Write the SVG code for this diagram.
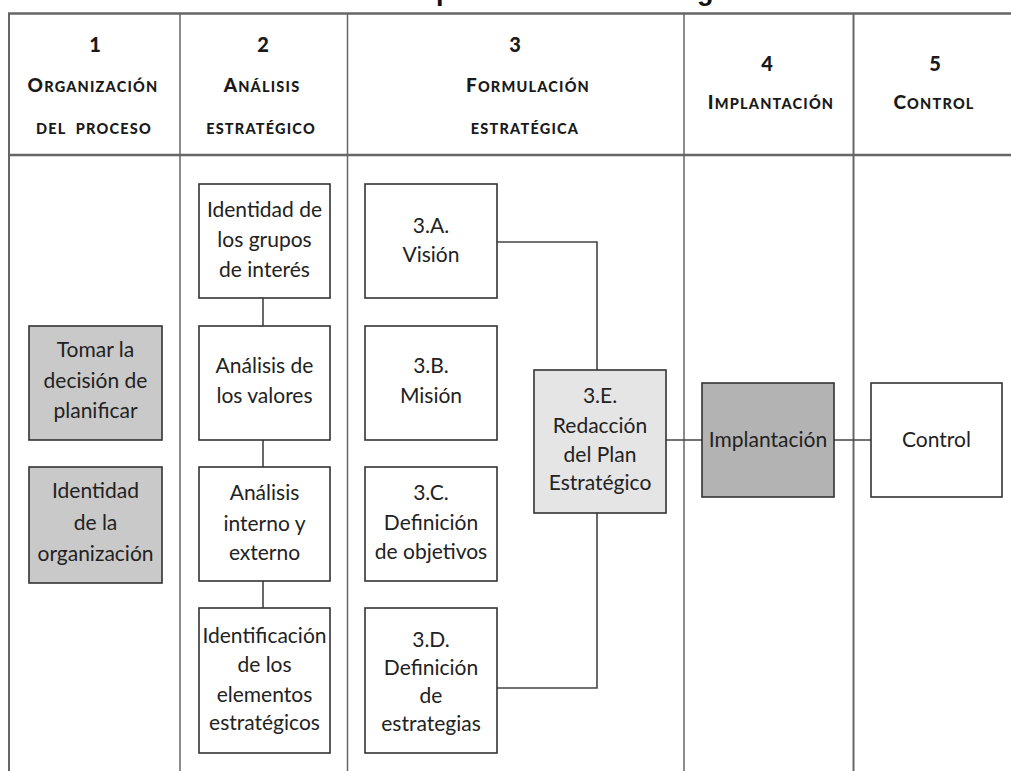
<svg xmlns="http://www.w3.org/2000/svg" width="1011" height="771" viewBox="0 0 1011 771">
<style>
.title{font-family:"Liberation Sans",Arial,sans-serif;font-weight:bold;font-size:27px;fill:#111;text-anchor:middle}
.grid{stroke:#666;fill:none}
.hn{font-family:Lato,"Open Sans",sans-serif;font-weight:900;font-size:20px;fill:#1a1a1a;text-anchor:middle}
.hc{font-family:Lato,"Open Sans",sans-serif;font-weight:900;font-size:14.5px;letter-spacing:1.2px;fill:#1a1a1a;text-anchor:middle}
.big{font-size:19px}
.box{stroke:#333;stroke-width:1.6}
.white{fill:#fff}
.g1{fill:#c9c9c9}
.g2{fill:#e5e5e5}
.g3{fill:#b3b3b3}
.t{font-family:Lato,"Open Sans",sans-serif;font-size:21px;fill:#222;text-anchor:middle}
.conn{stroke:#444;stroke-width:1.6;fill:none}
</style>
<rect width="1011" height="771" fill="#fff"/>
<text class="title" x="517" y="-0.5">Proceso de planificación estratégica</text>
<g id="table">
<line class="grid" x1="8" y1="13.5" x2="1011" y2="13.5" stroke-width="2.5" stroke="#555"/>
<line class="grid" x1="8" y1="155" x2="1011" y2="155" stroke-width="2.5" stroke="#555"/>
<line class="grid" x1="9" y1="13" x2="9" y2="771" stroke-width="2" stroke="#777"/>
<line class="grid" x1="180" y1="13" x2="180" y2="771" stroke-width="1.5" stroke="#777"/>
<line class="grid" x1="347.5" y1="13" x2="347.5" y2="771" stroke-width="1.5" stroke="#777"/>
<line class="grid" x1="684" y1="13" x2="684" y2="771" stroke-width="1.5" stroke="#888"/>
<line class="grid" x1="853.5" y1="13" x2="853.5" y2="771" stroke-width="2" stroke="#bbb"/>
</g>
<g id="headers">
<g id="h1">
<text class="hn" x="95" y="52">1</text>
<text class="hc" x="93" y="92"><tspan class="big">O</tspan>RGANIZACIÓN</text>
<text class="hc" x="94" y="134" word-spacing="5" letter-spacing="1.6">DEL PROCESO</text>
</g>
<g id="h2">
<text class="hn" x="263" y="52">2</text>
<text class="hc" x="262" y="92"><tspan class="big">A</tspan>NÁLISIS</text>
<text class="hc" x="261" y="134" letter-spacing="1.5">ESTRATÉGICO</text>
</g>
<g id="h3">
<text class="hn" x="515" y="52">3</text>
<text class="hc" x="528" y="92"><tspan class="big">F</tspan>ORMULACIÓN</text>
<text class="hc" x="525" y="134" letter-spacing="1.5">ESTRATÉGICA</text>
</g>
<g id="h4">
<text class="hn" x="767" y="71">4</text>
<text class="hc" x="771" y="109"><tspan class="big">I</tspan>MPLANTACIÓN</text>
</g>
<g id="h5">
<text class="hn" x="935" y="71">5</text>
<text class="hc" x="934" y="109"><tspan class="big">C</tspan>ONTROL</text>
</g>
</g>
<g id="connectors">
<line class="conn" x1="263" y1="298" x2="263" y2="326"/>
<line class="conn" x1="263" y1="440" x2="263" y2="467"/>
<line class="conn" x1="263" y1="581" x2="263" y2="608"/>
<polyline class="conn" points="497,242 597,242 597,370"/>
<polyline class="conn" points="597,513 597,688 497,688"/>
<line class="conn" x1="666" y1="440" x2="702" y2="440"/>
<line class="conn" x1="834" y1="440" x2="871" y2="440"/>
</g>
<g id="n-tomar">
<rect class="box g1" x="29" y="326" width="133" height="114"/>
<text class="t"><tspan x="95.5" y="357">Tomar la</tspan><tspan x="95.5" y="388">decisión de</tspan><tspan x="95.5" y="418">planificar</tspan></text>
</g>
<g id="n-identidad-org">
<rect class="box g1" x="29" y="467" width="133" height="116"/>
<text class="t"><tspan x="95.5" y="498">Identidad</tspan><tspan x="95.5" y="530">de la</tspan><tspan x="95.5" y="561">organización</tspan></text>
</g>
<g id="n-grupos">
<rect class="box white" x="199" y="184" width="131" height="114"/>
<text class="t"><tspan x="264.5" y="217">Identidad de</tspan><tspan x="264.5" y="247">los grupos</tspan><tspan x="264.5" y="277">de interés</tspan></text>
</g>
<g id="n-valores">
<rect class="box white" x="199" y="326" width="131" height="114"/>
<text class="t"><tspan x="264.5" y="373">Análisis de</tspan><tspan x="264.5" y="403">los valores</tspan></text>
</g>
<g id="n-interno">
<rect class="box white" x="199" y="467" width="131" height="114"/>
<text class="t"><tspan x="264.5" y="500">Análisis</tspan><tspan x="264.5" y="531">interno y</tspan><tspan x="264.5" y="560">externo</tspan></text>
</g>
<g id="n-elementos">
<rect class="box white" x="199" y="608" width="131" height="145"/>
<text class="t"><tspan x="264.5" y="643">Identificación</tspan><tspan x="264.5" y="672">de los</tspan><tspan x="264.5" y="702">elementos</tspan><tspan x="264.5" y="730">estratégicos</tspan></text>
</g>
<g id="n-3a">
<rect class="box white" x="365" y="184" width="132" height="114"/>
<text class="t"><tspan x="431" y="233">3.A.</tspan><tspan x="431" y="262">Visión</tspan></text>
</g>
<g id="n-3b">
<rect class="box white" x="365" y="326" width="132" height="114"/>
<text class="t"><tspan x="431" y="373">3.B.</tspan><tspan x="431" y="403">Misión</tspan></text>
</g>
<g id="n-3c">
<rect class="box white" x="365" y="467" width="132" height="114"/>
<text class="t"><tspan x="431" y="500">3.C.</tspan><tspan x="431" y="530">Definición</tspan><tspan x="431" y="559">de objetivos</tspan></text>
</g>
<g id="n-3d">
<rect class="box white" x="365" y="608" width="132" height="145"/>
<text class="t"><tspan x="431" y="647">3.D.</tspan><tspan x="431" y="675">Definición</tspan><tspan x="431" y="703">de</tspan><tspan x="431" y="731">estrategias</tspan></text>
</g>
<g id="n-3e">
<rect class="box g2" x="534" y="370" width="132" height="143"/>
<text class="t"><tspan x="600" y="403">3.E.</tspan><tspan x="600" y="433">Redacción</tspan><tspan x="600" y="462">del Plan</tspan><tspan x="600" y="490">Estratégico</tspan></text>
</g>
<g id="n-implantacion">
<rect class="box g3" x="702" y="383" width="132" height="114"/>
<text class="t" x="768" y="447">Implantación</text>
</g>
<g id="n-control">
<rect class="box white" x="871" y="383" width="131" height="114"/>
<text class="t" x="936.5" y="447">Control</text>
</g>
</svg>
